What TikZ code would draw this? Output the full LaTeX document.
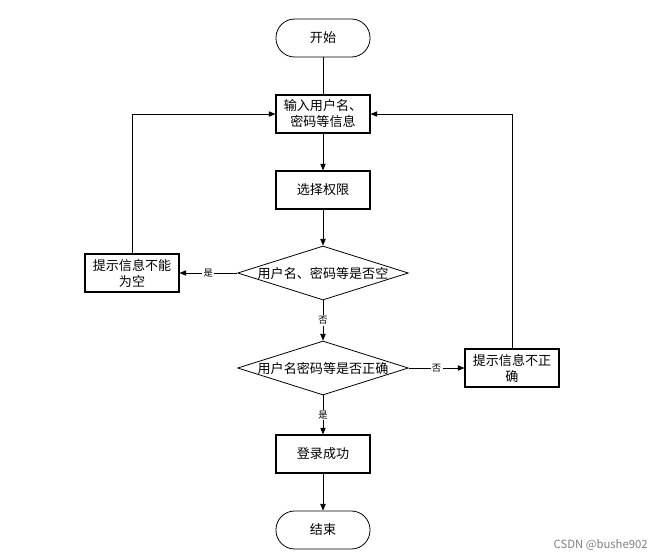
\documentclass[tikz,border=0pt]{standalone}
\usepackage{fontspec}
\setmainfont{Noto Sans CJK SC}
\usetikzlibrary{shapes.geometric,arrows.meta}

\begin{document}
\begin{tikzpicture}[x=0.75pt,y=-0.75pt,
    every node/.style={font=\fontsize{9.8}{12}\selectfont},
    terminal/.style={draw,line width=0.6pt,rounded corners=14pt,minimum width=70.5pt,minimum height=28.5pt,inner sep=0},
    proc/.style={draw,line width=0.8pt,minimum width=70.5pt,minimum height=28.5pt,inner sep=0,align=center},
    decision/.style={draw,diamond,line width=0.6pt,minimum width=128pt,minimum height=40.5pt,inner sep=0},
    arr/.style={line width=0.6pt,-{Triangle[length=5pt,width=4pt]}},
    lbl/.style={fill=white,inner sep=1pt,font=\fontsize{7}{8}\selectfont}]
    \useasboundingbox (0,0) rectangle (660,558);
    \pgfmathsetmacro{\midx}{323}
    % main column
    \node[terminal] (start) at (\midx,38) {开始};
    \node[proc] (input) at (\midx,114) {输入用户名、\\密码等信息};
    \node[proc] (role) at (\midx,190) {选择权限};
    \node[decision,label=center:{用户名、密码等是否空}] (chkempty) at (\midx,273) {};
    \node[decision,label=center:{用户名密码等是否正确}] (chkpass) at (\midx,368) {};
    \node[proc] (ok) at (\midx,454) {登录成功};
    \node[terminal] (stop) at (\midx,530) {结束};
    % side boxes
    \node[proc] (empty) at (132,273) {提示信息不能\\为空};
    \node[proc] (wrong) at (512,368) {提示信息不正\\确};
    % connectors
    \draw[line width=0.6pt] (start) -- (input);
    \draw[arr] (input) -- (role);
    \draw[arr] (role) -- (chkempty);
    \draw[arr] (chkempty) -- node[lbl]{否} (chkpass);
    \draw[arr] (chkempty) -- node[lbl]{是} (empty);
    \draw[arr] (chkpass) -- node[lbl]{否} (wrong);
    \draw[arr] (chkpass) -- node[lbl]{是} (ok);
    \draw[arr] (ok) -- (stop);
    \draw[arr] (empty.north) |- (input.west);
    \draw[arr] (wrong.north) |- (input.east);
    % watermark
    \node[text=gray,anchor=east,inner sep=0,font=\fontsize{8.5}{10}\selectfont] (mark) at (648,545) {CSDN @bushe902};
\end{tikzpicture}
\end{document}
